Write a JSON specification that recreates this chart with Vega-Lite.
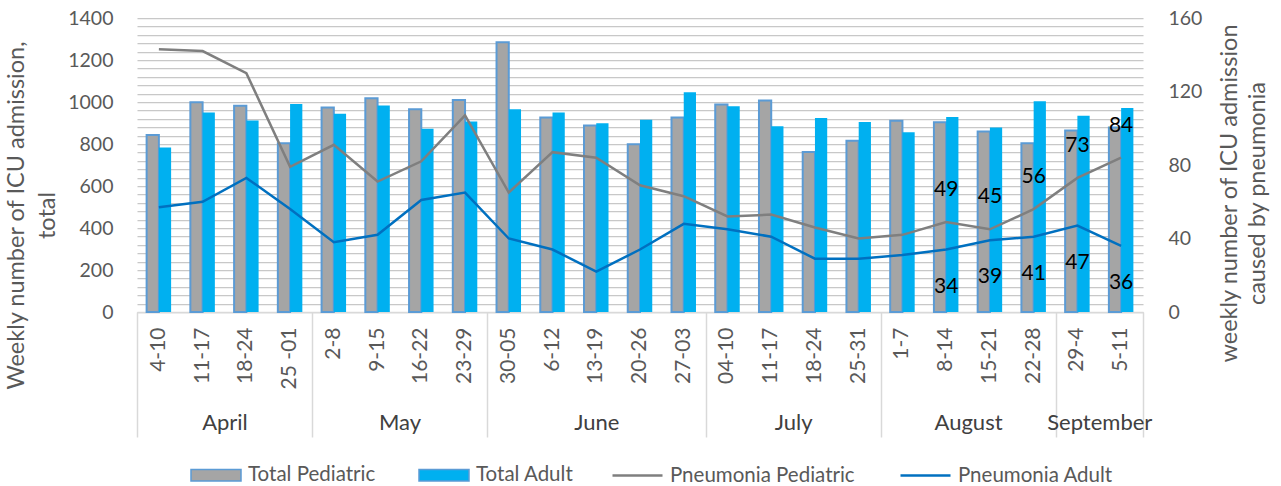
{
  "$schema": "https://vega.github.io/schema/vega-lite/v6.json",
  "width": 1006,
  "height": 294,
  "autosize": {"type": "none"},
  "padding": {"left": 137, "top": 18, "right": 138, "bottom": 174},
  "background": "white",
  "config": {"font": "Lato", "view": {"stroke": null}},
  "datasets": {
    "weeks": [
      {"key": "Apr|4-10", "Total Pediatric": 843, "Total Adult": 783, "Pneumonia Pediatric": 143, "Pneumonia Adult": 57},
      {"key": "Apr|11-17", "Total Pediatric": 999, "Total Adult": 950, "Pneumonia Pediatric": 142, "Pneumonia Adult": 60},
      {"key": "Apr|18-24", "Total Pediatric": 982, "Total Adult": 912, "Pneumonia Pediatric": 130, "Pneumonia Adult": 73},
      {"key": "Apr|25 -01", "Total Pediatric": 804, "Total Adult": 991, "Pneumonia Pediatric": 79, "Pneumonia Adult": 56},
      {"key": "May|2-8", "Total Pediatric": 974, "Total Adult": 944, "Pneumonia Pediatric": 91, "Pneumonia Adult": 38},
      {"key": "May|9-15", "Total Pediatric": 1018, "Total Adult": 983, "Pneumonia Pediatric": 71, "Pneumonia Adult": 42},
      {"key": "May|16-22", "Total Pediatric": 966, "Total Adult": 873, "Pneumonia Pediatric": 82, "Pneumonia Adult": 61},
      {"key": "May|23-29", "Total Pediatric": 1009, "Total Adult": 907, "Pneumonia Pediatric": 107, "Pneumonia Adult": 65},
      {"key": "Jun|30-05", "Total Pediatric": 1284, "Total Adult": 966, "Pneumonia Pediatric": 65, "Pneumonia Adult": 40},
      {"key": "Jun|6-12", "Total Pediatric": 926, "Total Adult": 950, "Pneumonia Pediatric": 87, "Pneumonia Adult": 34},
      {"key": "Jun|13-19", "Total Pediatric": 888, "Total Adult": 899, "Pneumonia Pediatric": 84, "Pneumonia Adult": 22},
      {"key": "Jun|20-26", "Total Pediatric": 799, "Total Adult": 916, "Pneumonia Pediatric": 69, "Pneumonia Adult": 34},
      {"key": "Jun|27-03", "Total Pediatric": 926, "Total Adult": 1047, "Pneumonia Pediatric": 63, "Pneumonia Adult": 48},
      {"key": "Jul|04-10", "Total Pediatric": 988, "Total Adult": 980, "Pneumonia Pediatric": 52, "Pneumonia Adult": 45},
      {"key": "Jul|11-17", "Total Pediatric": 1007, "Total Adult": 885, "Pneumonia Pediatric": 53, "Pneumonia Adult": 41},
      {"key": "Jul|18-24", "Total Pediatric": 762, "Total Adult": 924, "Pneumonia Pediatric": 46, "Pneumonia Adult": 29},
      {"key": "Jul|25-31", "Total Pediatric": 816, "Total Adult": 905, "Pneumonia Pediatric": 40, "Pneumonia Adult": 29},
      {"key": "Aug|1-7", "Total Pediatric": 911, "Total Adult": 856, "Pneumonia Pediatric": 42, "Pneumonia Adult": 31},
      {"key": "Aug|8-14", "Total Pediatric": 904, "Total Adult": 929, "Pneumonia Pediatric": 49, "Pneumonia Adult": 34},
      {"key": "Aug|15-21", "Total Pediatric": 859, "Total Adult": 878, "Pneumonia Pediatric": 45, "Pneumonia Adult": 39},
      {"key": "Aug|22-28", "Total Pediatric": 804, "Total Adult": 1004, "Pneumonia Pediatric": 56, "Pneumonia Adult": 41},
      {"key": "Sep|29-4", "Total Pediatric": 864, "Total Adult": 935, "Pneumonia Pediatric": 73, "Pneumonia Adult": 47},
      {"key": "Sep|5-11", "Total Pediatric": 878, "Total Adult": 971, "Pneumonia Pediatric": 84, "Pneumonia Adult": 36}
    ],
    "months": [
      {"month": "April", "start": 0, "end": 4},
      {"month": "May", "start": 4, "end": 8},
      {"month": "June", "start": 8, "end": 13},
      {"month": "July", "start": 13, "end": 17},
      {"month": "August", "start": 17, "end": 21},
      {"month": "September", "start": 21, "end": 23}
    ]
  },
  "layer": [
    {
      "data": {"name": "weeks"},
      "layer": [
        {
          "transform": [{"fold": ["Total Pediatric", "Total Adult"], "as": ["series", "value"]}],
          "mark": {"type": "bar"},
          "encoding": {
            "x": {
              "field": "key", "type": "nominal", "sort": null,
              "scale": {"paddingInner": 0.44, "paddingOuter": 0.22},
              "axis": {
                "title": null, "labelAngle": -90, "labelExpr": "split(datum.value, '|')[1]",
                "ticks": false, "domain": true, "domainColor": "#D9D9D9", "domainWidth": 1.5,
                "labelPadding": 15, "labelFontSize": 21, "labelColor": "#595959", "grid": false
              }
            },
            "xOffset": {"field": "series", "type": "nominal", "scale": {"domain": ["Total Pediatric", "Total Adult"], "paddingInner": 0, "paddingOuter": 0}},
            "y": {
              "field": "value", "type": "quantitative",
              "scale": {"domain": [0, 1400], "nice": false},
              "axis": {
                "orient": "left",
                "values": [0,40,80,120,160,200,240,280,320,360,400,440,480,520,560,600,640,680,720,760,800,840,880,920,960,1000,1040,1080,1120,1160,1200,1240,1280,1320,1360,1400],
                "format": "d",
                "labelExpr": "datum.value % 200 === 0 ? datum.label : ''",
                "labelOverlap": false,
                "grid": true, "gridColor": "#C8C8C8", "gridWidth": 1.25,
                "ticks": false, "domain": false, "labelPadding": 24,
                "labelFontSize": 19.5, "labelColor": "#595959",
                "title": ["Weekly number of ICU admission,", "total"],
                "titleFontSize": 23.5, "titleFontWeight": "normal", "titleColor": "#595959",
                "titleAngle": -90, "titleX": -121, "titleY": 197,
                "titleAlign": "center", "titleBaseline": "middle", "titleLineHeight": 31
              }
            },
            "color": {
              "field": "series", "type": "nominal",
              "scale": {
                "domain": ["Total Pediatric", "Total Adult"],
                "range": ["#A5A5A5", "#00B0F0"]
              },
              "legend": {
                "orient": "none", "legendX": 53, "legendY": 431, "direction": "horizontal",
                "title": null, "symbolType": "M-1,-0.23H1V0.23H-1Z", "symbolSize": 2500,
                "symbolStrokeColor": "#5B9BD5", "symbolStrokeWidth": 1.5, "symbolOpacity": 1,
                "labelFontSize": 20.5, "labelColor": "#595959", "labelLimit": 400,
                "labelOffset": 6, "columnPadding": 40
              }
            },
            "stroke": {"condition": {"test": "datum.series === 'Total Pediatric'", "value": "#5B9BD5"}, "value": "#00B0F0"},
            "strokeWidth": {"condition": {"test": "datum.series === 'Total Pediatric'", "value": 2}, "value": 0}
          }
        },
        {
          "layer": [
            {
              "transform": [{"fold": ["Pneumonia Pediatric", "Pneumonia Adult"], "as": ["series", "value"]}],
              "mark": {"type": "line", "strokeWidth": 2.5},
              "encoding": {
                "x": {"field": "key", "type": "nominal", "sort": null},
                "y": {
                  "field": "value", "type": "quantitative",
                  "scale": {"domain": [0, 160], "nice": false},
                  "axis": {
                    "orient": "right",
                    "values": [0,20,40,60,80,100,120,140,160],
                    "grid": false, "ticks": false, "domain": false, "labelPadding": 25,
                    "labelFontSize": 19.5, "labelColor": "#595959",
                    "title": ["weekly number of ICU admission", "caused by pneumonia"],
                    "titleFontSize": 23.5, "titleFontWeight": "normal", "titleColor": "#595959",
                    "titleAngle": -90, "titleX": 86, "titleY": 175,
                    "titleAlign": "center", "titleBaseline": "middle", "titleLineHeight": 28
                  }
                },
                "stroke": {
                  "field": "series", "type": "nominal",
                  "scale": {
                    "domain": ["Pneumonia Pediatric", "Pneumonia Adult"],
                    "range": ["#7F7F7F", "#0070C0"]
                  },
                  "legend": {
                    "orient": "none", "legendX": 474, "legendY": 431, "direction": "horizontal",
                    "title": null, "symbolType": "stroke", "symbolSize": 2500,
                    "symbolStrokeWidth": 2.5, "labelFontSize": 20.5, "labelColor": "#595959",
                    "labelLimit": 400, "labelOffset": 6, "columnPadding": 40
                  }
                }
              }
            },
            {
              "transform": [{"filter": {"field": "key", "oneOf": ["Aug|8-14", "Aug|15-21", "Aug|22-28", "Sep|29-4", "Sep|5-11"]}}],
              "mark": {"type": "text", "dy": -32, "fontSize": 21, "color": "#000000"},
              "encoding": {
                "x": {"field": "key", "type": "nominal", "sort": null},
                "y": {"field": "Pneumonia Pediatric", "type": "quantitative"},
                "text": {"field": "Pneumonia Pediatric", "type": "quantitative"}
              }
            },
            {
              "transform": [{"filter": {"field": "key", "oneOf": ["Aug|8-14", "Aug|15-21", "Aug|22-28", "Sep|29-4", "Sep|5-11"]}}],
              "mark": {"type": "text", "dy": 37, "fontSize": 21, "color": "#000000"},
              "encoding": {
                "x": {"field": "key", "type": "nominal", "sort": null},
                "y": {"field": "Pneumonia Adult", "type": "quantitative"},
                "text": {"field": "Pneumonia Adult", "type": "quantitative"}
              }
            }
          ]
        }
      ],
      "resolve": {"scale": {"y": "independent"}}
    },
    {
      "data": {"name": "months"},
      "mark": {"type": "rect", "opacity": 0},
      "encoding": {
        "x": {
          "field": "start", "type": "quantitative",
          "scale": {"domain": [0, 23], "nice": false, "zero": false},
          "axis": {
            "orient": "bottom", "title": null,
            "values": [0, 2, 4, 6, 8, 10.5, 13, 15, 17, 19, 21, 22, 23],
            "labelExpr": "datum.value === 2 ? 'April' : datum.value === 6 ? 'May' : datum.value === 10.5 ? 'June' : datum.value === 15 ? 'July' : datum.value === 19 ? 'August' : datum.value === 22 ? 'September' : ''",
            "domain": false, "grid": false, "ticks": true, "tickSize": 125,
            "tickColor": "#D9D9D9", "tickWidth": 1.5,
            "tickOpacity": {"condition": {"test": "indexof([0, 4, 8, 13, 17, 21, 23], datum.value) >= 0", "value": 1}, "value": 0},
            "labelPadding": -15, "labelBaseline": "middle", "labelFontSize": 22, "labelColor": "#404040",
            "labelOverlap": false, "labelFlush": false, "labelBound": false
          }
        },
        "x2": {"field": "end"}
      }
    }
  ],
  "resolve": {"scale": {"x": "independent", "y": "independent"}, "axis": {"x": "independent"}}
}
